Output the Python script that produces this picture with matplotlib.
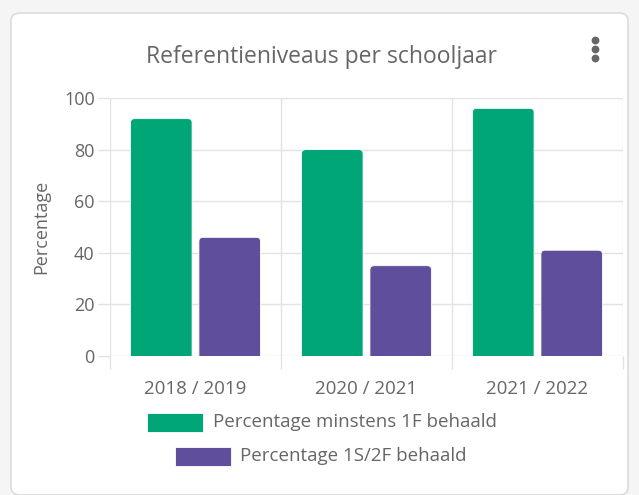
import matplotlib.pyplot as plt
from matplotlib.patches import FancyBboxPatch, Rectangle
from matplotlib.lines import Line2D
import numpy as np

plt.rcParams['font.family'] = ['Open Sans', 'DejaVu Sans']

# Data
years = ["2018 / 2019", "2020 / 2021", "2021 / 2022"]
pct_1f = [92, 80, 96]
pct_1s2f = [46, 35, 41]
series_names = ["Percentage minstens 1F behaald", "Percentage 1S/2F behaald"]
colors = ["#00a676", "#5e4e9c"]
text_col = "#666666"
grid_col = "#e2e2e2"

fig = plt.figure(figsize=(6.39, 4.95), dpi=100)
fig.patch.set_facecolor("#f5f5f5")

# Card background
card = FancyBboxPatch((11 / 639, 0.0), 617 / 639, 1 - 13 / 495,
                      boxstyle="round,pad=0,rounding_size=0.015",
                      transform=fig.transFigure, facecolor="white",
                      edgecolor="#dcdcdc", linewidth=1.2, zorder=0)
fig.add_artist(card)

ax = fig.add_axes([110 / 639, 1 - 356 / 495, 513 / 639, 258 / 495])
ax.set_facecolor("none")

x = np.arange(len(years))
w = 0.36
off = 0.2
b1 = ax.bar(x - off, pct_1f, w, color=colors[0])
b2 = ax.bar(x + off, pct_1s2f, w, color=colors[1])

# replace plain bars by slightly rounded ones
for bars, c in [(b1, colors[0]), (b2, colors[1])]:
    for p in bars:
        x0, wd, h = p.get_x(), p.get_width(), p.get_height()
        p.set_visible(False)
        r = FancyBboxPatch((x0, -4), wd, h + 4,
                           boxstyle="round,pad=0,rounding_size=0.025",
                           mutation_aspect=62, facecolor=c,
                           edgecolor="white", linewidth=0.6, zorder=3)
        ax.add_patch(r)

ax.set_xlim(-0.5, len(years) - 0.5)
ax.set_ylim(0, 100)
ax.set_yticks(range(0, 101, 20))
ax.set_xticks(x)
ax.set_xticklabels(years)
ax.set_xticks(np.arange(-0.5, len(years)), minor=True)

for s in ax.spines.values():
    s.set_visible(False)

ax.grid(axis="y", color=grid_col, linewidth=1, zorder=0)
ax.grid(axis="x", which="minor", color=grid_col, linewidth=1, zorder=0)
ax.set_axisbelow(True)

ax.tick_params(axis="y", length=9, color=grid_col, width=1,
               labelsize=13, labelcolor=text_col, pad=2)
ax.tick_params(axis="x", which="major", length=0, labelsize=13.5,
               labelcolor=text_col, pad=17)
ax.tick_params(axis="x", which="minor", length=9, color=grid_col, width=1)

ax.set_ylabel("Percentage", fontsize=13, color=text_col, labelpad=10)

fig.text(322 / 639, 1 - 57 / 495, "Referentieniveaus per schooljaar",
         ha="center", va="center", fontsize=16.5, color=text_col)

# menu dots
for yy in [40, 49, 58]:
    fig.add_artist(Line2D([595 / 639], [1 - yy / 495], marker="o",
                          markersize=4.6, color="#666666",
                          transform=fig.transFigure))

# legend
leg = [(147, 413, 213, 422), (175, 447, 240, 456)]
for (sx, sy, tx, ty), name, c in zip(leg, series_names, colors):
    fig.add_artist(Rectangle((sx / 639, 1 - (sy + 19) / 495), 56 / 639, 19 / 495,
                             transform=fig.transFigure, facecolor=c,
                             edgecolor="white", linewidth=0.6))
    fig.text(tx / 639, 1 - ty / 495, name, ha="left", va="center",
             fontsize=13.5, color=text_col)

fig.savefig("out.png", dpi=100, facecolor=fig.get_facecolor())
